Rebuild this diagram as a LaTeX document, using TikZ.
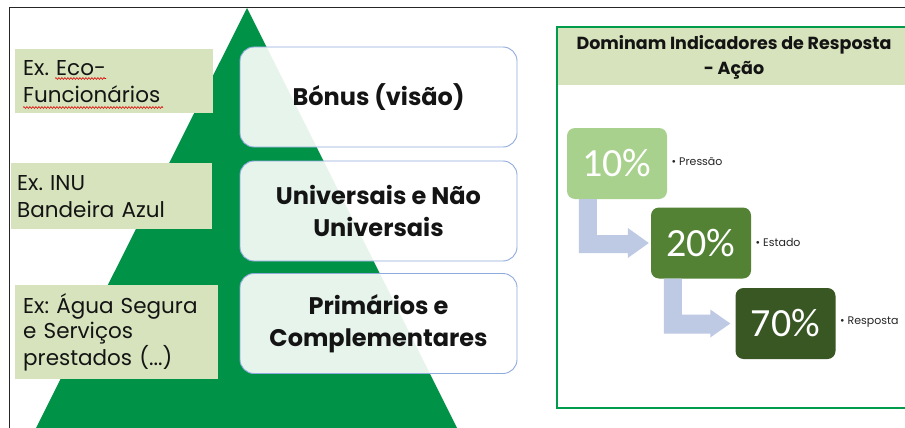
\documentclass[tikz,border=0pt]{standalone}
\usepackage{fontspec}
\setmainfont{Poppins}
\newfontfamily\calib{Carlito}
\usetikzlibrary{decorations.pathmorphing}
\frenchspacing
\definecolor{pyr}{RGB}{0,146,70}
\definecolor{lblfill}{RGB}{214,227,188}
\definecolor{boxedge}{RGB}{143,170,220}
\definecolor{panelgreen}{RGB}{0,155,75}
\definecolor{pA}{RGB}{169,209,142}
\definecolor{pB}{RGB}{84,130,53}
\definecolor{pC}{RGB}{56,87,35}
\definecolor{arrowc}{RGB}{190,201,228}
\definecolor{txt}{RGB}{20,20,20}
\begin{document}
\begin{tikzpicture}[x=1pt,y=-1pt,
  lbl/.style={fill=lblfill, anchor=north west, inner ysep=0pt, align=left, text=txt,
    font=\frenchspacing\fontsize{21.5}{27}\selectfont},
  tier/.style={draw=boxedge, line width=0.9pt, rounded corners=14pt, fill=white, fill opacity=0.9,
    text opacity=1, text=txt, minimum width=277pt, minimum height=100pt, align=center,
    font=\bfseries\fontsize{24}{32}\selectfont},
  pct/.style={rounded corners=8pt, minimum width=100pt, minimum height=71pt, text=white,
    font=\calib\fontsize{40}{40}\selectfont},
  bullet/.style={anchor=west, text=black!85, font=\fontsize{11}{13}\selectfont},
  squig/.style={red!85!black, line width=0.6pt, decorate,
    decoration={snake, amplitude=0.9pt, segment length=3pt}}
]
\useasboundingbox (0,0) rectangle (905,428);
\fill[white] (0,0) rectangle (905,428);
% outer frame
\draw[line width=1.6pt, black!85] (9.5,428) -- (9.5,7.5) -- (905,7.5);
% pyramid
\fill[pyr] (247,8) -- (457,428) -- (36,428) -- cycle;
% left labels
\node[lbl, minimum width=196pt, minimum height=64pt, text width=182pt, inner xsep=8pt] (l1) at (15,49)
  {Ex. Eco-\\Funcionários};
\node[lbl, minimum width=201pt, minimum height=66pt, text width=189pt, inner xsep=6pt] (l2) at (11,163)
  {Ex. INU\\Bandeira Azul};
\node[lbl, minimum width=203pt, minimum height=94pt, text width=187pt, inner xsep=8pt,
  font=\frenchspacing\fontsize{21.5}{25}\selectfont] (l3) at (15,285)
  {Ex: Água Segura\\e Serviços\\prestados (...)};
\draw[squig] (55,78.5) -- (106,78.5);
\draw[squig] (23,107.5) -- (163,107.5);
% tiers
\node[tier] (t1) at (378.5,97) {Bónus (visão)};
\node[tier] (t2) at (378.5,211) {Universais e Não\\Universais};
\node[tier] (t3) at (378.5,323.5) {Primários e\\Complementares};
% right panel
\fill[lblfill] (557,27) rectangle (905,85);
\node[align=center, text=txt, font=\bfseries\fontsize{17.5}{25}\selectfont] (hd) at (734,57)
  {Dominam Indicadores de Resposta\\- Ação};
\draw[panelgreen, line width=2.2pt] (906,27) -- (557,27) -- (557,408) -- (906,408);
% percentage boxes
\node[pct, fill=pA] (b10) at (617,163.5) {10\%};
\node[pct, fill=pB] (b20) at (701,243) {20\%};
\node[pct, fill=pC] (b70) at (785.5,323.5) {70\%};
% bent arrows
\fill[arrowc] ([xshift=12pt]b10.south west) -- ([xshift=30pt]b10.south west)
  |- ([xshift=-23pt,yshift=8pt]b20.west) -- ([xshift=-23pt,yshift=15pt]b20.west)
  -- ([xshift=-2pt]b20.west) -- ([xshift=-23pt,yshift=-15pt]b20.west)
  -- ([xshift=-23pt,yshift=-10pt]b20.west) -| ([xshift=12pt]b10.south west) -- cycle;
\fill[arrowc] ([xshift=13pt]b20.south west) -- ([xshift=31pt]b20.south west)
  |- ([xshift=-25pt,yshift=9pt]b70.west) -- ([xshift=-25pt,yshift=14pt]b70.west)
  -- ([xshift=-5pt]b70.west) -- ([xshift=-25pt,yshift=-14pt]b70.west)
  -- ([xshift=-25pt,yshift=-10pt]b70.west) -| ([xshift=13pt]b20.south west) -- cycle;
% bullet labels
\node[bullet] (lp) at ([xshift=1pt,yshift=2pt]b10.east) {• Pressão};
\node[bullet] (le) at ([xshift=1pt,yshift=1pt]b20.east) {• Estado};
\node[bullet] (lr) at ([xshift=1pt,yshift=1pt]b70.east) {• Resposta};
\end{tikzpicture}
\end{document}
